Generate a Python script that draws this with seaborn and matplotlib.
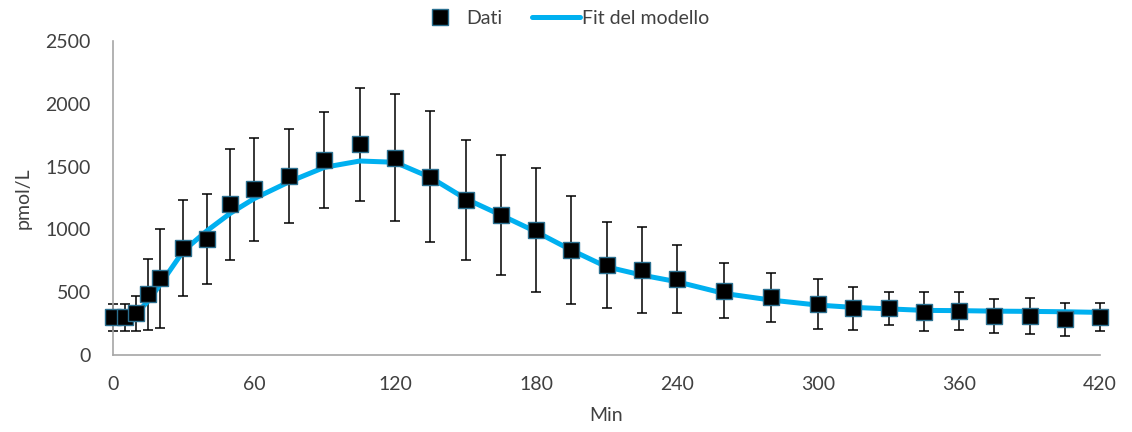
import matplotlib.pyplot as plt
from matplotlib.lines import Line2D
import pandas as pd
import seaborn as sns

# time points (min)
minutes = [0, 5, 10, 15, 20, 30, 40, 50, 60, 75, 90, 105, 120, 135, 150, 165,
           180, 195, 210, 225, 240, 260, 280, 300, 315, 330, 345, 360, 375,
           390, 405, 420]
# measured means (pmol/L)
dati = [300, 300, 332, 483, 610, 854, 924, 1200, 1322, 1425, 1553, 1680,
        1571, 1420, 1234, 1115, 995, 836, 717, 677, 603, 512, 459, 406,
        372, 372, 345, 350, 313, 313, 284, 305]
# error bar half-widths (SD)
sd = [110, 105, 140, 280, 395, 380, 355, 440, 410, 372, 385, 450, 505, 522,
      480, 480, 493, 428, 342, 343, 271, 218, 195, 198, 170, 130, 155, 152,
      137, 142, 132, 112]
# model fit
fit = [300, 300, 335, 430, 560, 830, 990, 1130, 1245, 1380, 1495, 1545,
       1535, 1415, 1245, 1115, 982, 836, 703, 637, 584, 491, 438, 398, 380,
       368, 356, 354, 350, 348, 345, 340]

df = pd.DataFrame({"Min": minutes, "Dati": dati, "SD": sd, "Fit": fit})

sns.set_style("white")
plt.rcParams["font.family"] = ["Lato", "DejaVu Sans"]

fs = 14
fig = plt.figure(figsize=(11.32, 4.32), dpi=100)
ax = fig.add_axes([0.0998, 0.178, 0.872, 0.727])

line_col = "#00B0F0"

ax.errorbar(df["Min"], df["Dati"], yerr=df["SD"], fmt="none", ecolor="black",
            elinewidth=1.1, capsize=3.6, capthick=1.1, zorder=2, clip_on=False)
sns.lineplot(data=df, x="Min", y="Fit", color=line_col, linewidth=3.6,
             ax=ax, zorder=3)
ax.plot(df["Min"], df["Dati"], linestyle="none", marker="s", markersize=11,
        markerfacecolor="black", markeredgecolor="#2a6f8f",
        markeredgewidth=1.0, zorder=4, clip_on=False)

ax.set_xlim(0, 420)
ax.set_ylim(0, 2500)
ax.set_xticks(range(0, 421, 60))
ax.set_yticks(range(0, 2501, 500))
ax.set_xlabel("Min", fontsize=fs, color="#404040", labelpad=10)
ax.set_ylabel("pmol/L", fontsize=fs, color="#404040")
ax.yaxis.set_label_coords(-0.082, 0.5)

for side in ["top", "right"]:
    ax.spines[side].set_visible(False)
for side in ["left", "bottom"]:
    ax.spines[side].set_color("#a6a6a6")
    ax.spines[side].set_linewidth(1.2)
ax.tick_params(axis="both", labelsize=fs, colors="#a6a6a6",
               labelcolor="#404040", direction="out")
ax.tick_params(axis="x", length=8, width=1.2, pad=7)
ax.tick_params(axis="y", length=5, width=1.2, pad=11)

handles = [
    Line2D([], [], linestyle="none", marker="s", markersize=11,
           markerfacecolor="black", markeredgecolor="#2a6f8f"),
    Line2D([], [], color=line_col, linewidth=3.6),
]
fig.legend(handles, ["Dati", "Fit del modello"], loc="center",
           bbox_to_anchor=(0.497, 0.958), ncol=2, frameon=False, fontsize=fs,
           handlelength=2.5, handletextpad=0.1, columnspacing=1.5,
           labelcolor="#404040")

fig.savefig("out.png", dpi=100)
